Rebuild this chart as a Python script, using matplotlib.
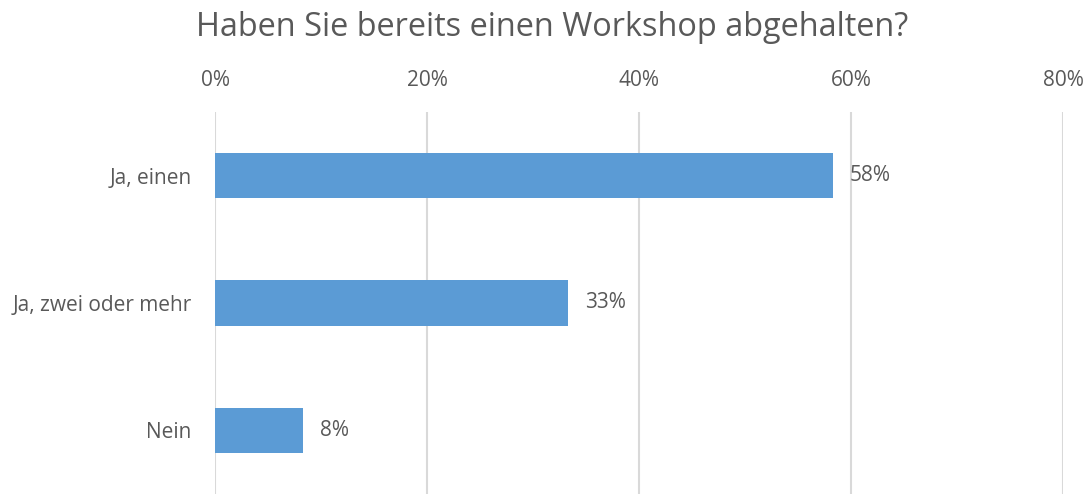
import matplotlib.pyplot as plt
from matplotlib.ticker import FuncFormatter

plt.rcParams['font.family'] = ['Open Sans', 'DejaVu Sans']

# Data
categories = ["Ja, einen", "Ja, zwei oder mehr", "Nein"]
values = [58.33, 33.33, 8.33]
value_labels = ["58%", "33%", "8%"]

text_color = "#595959"
bar_color = "#5B9BD5"
grid_color = "#D9D9D9"

fig = plt.figure(figsize=(10.86, 4.94), dpi=100)
ax = fig.add_axes([0.198, 0.0, 0.7808, 0.7733])

y = list(range(len(categories)))
ax.barh(y, values, height=0.354, color=bar_color, zorder=3)

for yi, v, lab in zip(y, values, value_labels):
    ax.annotate(lab, (v, yi), xytext=(12, 0), textcoords="offset points",
                va="center", ha="left", fontsize=15, color=text_color)

ax.set_xlim(0, 80)
ax.set_ylim(len(categories) - 0.5, -0.5)
ax.set_xticks([0, 20, 40, 60, 80])
ax.xaxis.set_major_formatter(FuncFormatter(lambda v, p: f"{v:.0f}%"))
ax.xaxis.tick_top()
ax.set_yticks(y)
ax.set_yticklabels(categories)
ax.tick_params(axis="x", length=0, pad=15, labelsize=15, labelcolor=text_color)
ax.tick_params(axis="y", length=0, pad=17, labelsize=15, labelcolor=text_color)

ax.grid(axis="x", color=grid_color, linewidth=1.5, zorder=0)
ax.grid(axis="y", visible=False)
for s in ax.spines.values():
    s.set_visible(False)

fig.text(0.508, 0.945, "Haben Sie bereits einen Workshop abgehalten?",
         ha="center", va="center", fontsize=23.4, color=text_color)

fig.savefig("out.png", dpi=100)
